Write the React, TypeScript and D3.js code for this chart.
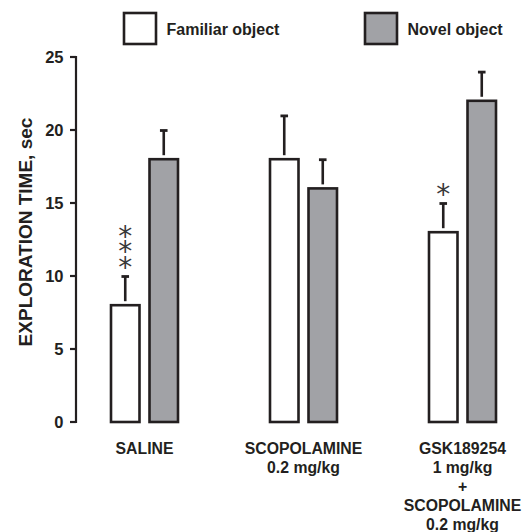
import React from "react";
import * as d3 from "d3";

const categories = ["SALINE", "SCOPOLAMINE", "GSK189254"];
const categoryLabels = [
  ["SALINE"],
  ["SCOPOLAMINE", "0.2 mg/kg"],
  ["GSK189254", "1 mg/kg", "+", "SCOPOLAMINE", "0.2 mg/kg"],
];
const series = ["Familiar object", "Novel object"];
const familiar = [8, 18, 13];
const familiarErr = [2, 3, 2];
const novel = [18, 16, 22];
const novelErr = [2, 2, 2];
const significance = ["***", "", "*"];
const yTicks = [0, 5, 10, 15, 20, 25];

const W = 523;
const H = 532;
const INK = "#231f20";
const GRAY = "#a1a2a6";
const FONT = "'Liberation Sans', Arial, Helvetica, sans-serif";

export default function App() {
  const y = d3.scaleLinear().domain([0, 25]).range([422, 57]);
  const x = d3.scalePoint<string>().domain(categories).range([144.5, 462.5]);
  const inner = d3.scaleBand<string>().domain(series).range([-33.5, 33.5]).paddingInner(0.26);
  const bw = inner.bandwidth();
  const colors = ["#ffffff", GRAY];
  const axisX = 76;
  const tickLen = 6;

  const groups = categories.map((c, i) => ({
    c,
    i,
    vals: [
      { s: series[0], v: familiar[i], e: familiarErr[i] },
      { s: series[1], v: novel[i], e: novelErr[i] },
    ],
  }));

  const starFs = 28;
  const starGap = 15.6;

  return (
    <svg width={W} height={H} style={{ display: "block", position: "absolute", left: 0, top: 0 }} fontFamily={FONT}>
      <rect x={0} y={0} width={W} height={H} fill="#fff" />
      {/* legend */}
      {series.map((s, i) => {
        const lx = i === 0 ? 124 : 365;
        return (
          <g key={s}>
            <rect x={lx} y={13} width={32} height={31} fill={colors[i]} stroke={INK} strokeWidth={2.6} />
            <text x={lx + 42.5} y={34.5} fontSize={16} fontWeight="bold" fill={INK}>
              {s}
            </text>
          </g>
        );
      })}

      {/* y axis */}
      <path
        d={`M${axisX - tickLen},${y(25)}H${axisX}V${y(0)}H${axisX - tickLen}`}
        fill="none"
        stroke={INK}
        strokeWidth={2.2}
      />
      {yTicks.map((t) => (
        <g key={t}>
          <line x1={axisX - tickLen} x2={axisX} y1={y(t)} y2={y(t)} stroke={INK} strokeWidth={2.2} />
          <text
            x={axisX - tickLen - 6.5}
            y={y(t)}
            dy="0.36em"
            textAnchor="end"
            fontSize={16.5}
            fontWeight="bold"
            fill={INK}
          >
            {t}
          </text>
        </g>
      ))}
      <text
        transform={`translate(31.5,232) rotate(-90)`}
        textAnchor="middle"
        fontSize={19}
        fontWeight="bold"
        fill={INK}
      >
        EXPLORATION TIME, sec
      </text>

      {/* bars */}
      {groups.map((g) => {
        const cx = x(g.c)!;
        const f = g.vals[0];
        const fMid = cx + inner(f.s)! + bw / 2;
        const stars = significance[g.i];
        const n = stars.length;
        const xs = d3.range(n).map(() => fMid.toFixed(2)).join(" ");
        const ys = d3
          .range(n)
          .map((k) => (y(f.v + f.e) - 16 - (n - 1 - k) * starGap + starFs * 0.6).toFixed(2))
          .join(" ");
        return (
          <g key={g.c}>
            {g.vals.map((d, j) => {
              const bx = cx + inner(d.s)!;
              const mid = bx + bw / 2;
              return (
                <g key={d.s}>
                  <rect
                    x={bx}
                    y={y(d.v)}
                    width={bw}
                    height={y(0) - y(d.v)}
                    fill={colors[j]}
                    stroke={INK}
                    strokeWidth={2.6}
                  />
                  <line x1={mid} x2={mid} y1={y(d.v) - 4} y2={y(d.v + d.e)} stroke={INK} strokeWidth={2.6} />
                  <line
                    x1={mid - 3.8}
                    x2={mid + 3.8}
                    y1={y(d.v + d.e) + 0.5}
                    y2={y(d.v + d.e) + 0.5}
                    stroke={INK}
                    strokeWidth={2.8}
                  />
                </g>
              );
            })}
            {n > 0 && (
              <text
                x={xs}
                y={ys}
                textAnchor="middle"
                fontSize={starFs}
                fontWeight="normal"
                fill="#3a3a3a"
                fontFamily="'DejaVu Sans', sans-serif"
              >
                {stars}
              </text>
            )}
            {categoryLabels[g.i].map((line, k) => (
              <text
                key={k}
                x={cx}
                y={454 + k * 19}
                textAnchor="middle"
                fontSize={15.8}
                fontWeight="bold"
                fill={INK}
              >
                {line}
              </text>
            ))}
          </g>
        );
      })}
    </svg>
  );
}
